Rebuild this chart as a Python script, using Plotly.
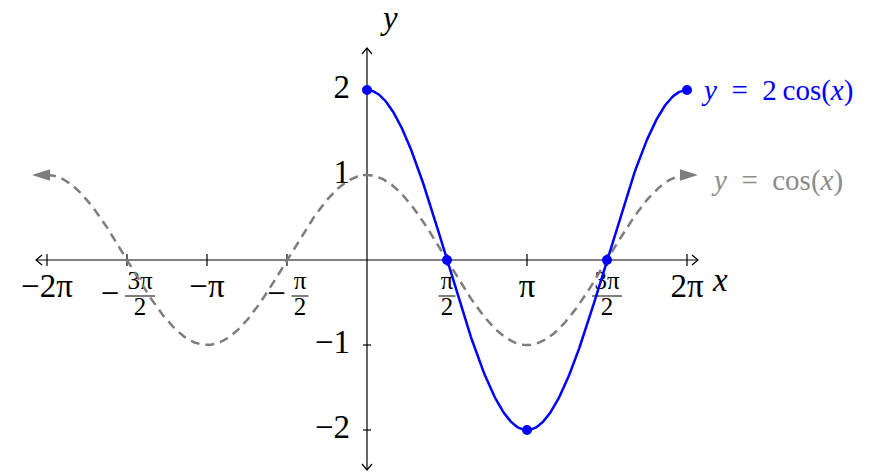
import numpy as np
import plotly.graph_objects as go

PI = np.pi

# curves
x_cos = np.linspace(-2 * PI, 2 * PI, 500)
y_cos = np.cos(x_cos)
x_2cos = np.linspace(0, 2 * PI, 300)
y_2cos = 2 * np.cos(x_2cos)

# highlighted points on y = 2cos(x)
dot_x = [0, PI / 2, PI, 3 * PI / 2, 2 * PI]
dot_y = [2 * np.cos(v) for v in dot_x]

# tick labels
whole_ticks = [-2 * PI, -PI, PI, 2 * PI]
whole_labels = ['−2π', '−π', 'π', '2π']
frac_ticks = [-3 * PI / 2, -PI / 2, PI / 2, 3 * PI / 2]
frac_signs = ['−', '−', '', '']
frac_nums = ['3π', 'π', 'π', '3π']
frac_dens = ['2', '2', '2', '2']
y_ticks = [-2, -1, 1, 2]
y_labels = ['−2', '−1', '1', '2']

# pixel scale of the drawing
W, H = 884, 475
SX = 160 / PI      # px per x unit
SY = 85.0          # px per y unit
OX, OY = 367, 260  # pixel position of the origin


def dx(px):
    return px / SX


def dy(px):
    return px / SY


FONT = 'Liberation Serif'
GRAY = 'rgb(125,125,125)'
BLUE = 'rgb(0,0,255)'
BIG = 33

fig = go.Figure()
shapes = []

# x tick labels (drawn first so curves sit on top)
fig.add_trace(go.Scatter(
    x=whole_ticks, y=[-dy(29)] * len(whole_ticks), text=whole_labels,
    mode='text', textfont=dict(family=FONT, size=BIG, color='black'),
    hoverinfo='skip', showlegend=False))

for t, s, n, d in zip(frac_ticks, frac_signs, frac_nums, frac_dens):
    fw = 28 if len(n) > 1 else 15
    if s:
        start = -(20 + 6 + fw) / 2
        fig.add_trace(go.Scatter(
            x=[t + dx(start + 10)], y=[-dy(36)], text=[s], mode='text',
            textfont=dict(family=FONT, size=BIG, color='black'),
            hoverinfo='skip', showlegend=False))
        fc = t + dx(start + 26 + fw / 2)
    else:
        fc = t
    fig.add_trace(go.Scatter(
        x=[fc, fc], y=[-dy(23), -dy(49)], text=[n, d], mode='text',
        textfont=dict(family=FONT, size=25, color='black'),
        hoverinfo='skip', showlegend=False))
    shapes.append(dict(type='line', xref='x', yref='y', layer='below',
                       x0=fc - dx(fw / 2 + 1), x1=fc + dx(fw / 2 + 1),
                       y0=-dy(36), y1=-dy(36),
                       line=dict(color='black', width=1)))

# y tick labels
fig.add_trace(go.Scatter(
    x=[-dx(17)] * len(y_ticks), y=y_ticks, text=y_labels,
    mode='text', textposition='middle left',
    textfont=dict(family=FONT, size=BIG, color='black'),
    hoverinfo='skip', showlegend=False))

# y = cos(x), dashed gray with arrow tips
fig.add_trace(go.Scatter(
    x=x_cos, y=y_cos, mode='lines',
    line=dict(color=GRAY, width=2.5, dash='9px,6px'),
    hoverinfo='skip', showlegend=False))
fig.add_trace(go.Scatter(
    x=[x_cos[0] - dx(15), x_cos[-1] + dx(11)], y=[y_cos[0], y_cos[-1]],
    mode='markers',
    marker=dict(symbol='arrow', size=19, angle=[270, 90], color=GRAY),
    hoverinfo='skip', showlegend=False))

# y = 2cos(x)
fig.add_trace(go.Scatter(
    x=x_2cos, y=y_2cos, mode='lines',
    line=dict(color=BLUE, width=2.5),
    hoverinfo='skip', showlegend=False))
fig.add_trace(go.Scatter(
    x=dot_x, y=dot_y, mode='markers',
    marker=dict(color=BLUE, size=10),
    hoverinfo='skip', showlegend=False))

# axes lines
xl, xr = dx(36 - OX), dx(698 - OX)
yb, yt = -dy(470 - OY), dy(OY - 48)
ax_line = dict(color='black', width=1.2)
shapes += [
    dict(type='line', x0=xl, x1=xr, y0=0, y1=0, line=ax_line, layer='below'),
    dict(type='line', x0=0, x1=0, y0=yb, y1=yt, line=ax_line, layer='below'),
    # open arrow heads
    dict(type='path', layer='below', line=ax_line,
         path=f'M{xl + dx(6)},{dy(5)} L{xl},0 L{xl + dx(6)},{-dy(5)}'),
    dict(type='path', layer='below', line=ax_line,
         path=f'M{xr - dx(6)},{dy(5)} L{xr},0 L{xr - dx(6)},{-dy(5)}'),
    dict(type='path', layer='below', line=ax_line,
         path=f'M{-dx(5)},{yt - dy(6)} L0,{yt} L{dx(5)},{yt - dy(6)}'),
    dict(type='path', layer='below', line=ax_line,
         path=f'M{-dx(5)},{yb + dy(6)} L0,{yb} L{dx(5)},{yb + dy(6)}'),
]
for t in whole_ticks + frac_ticks:
    shapes.append(dict(type='line', x0=t, x1=t, y0=-dy(6), y1=dy(6),
                       line=ax_line, layer='below'))
for t in y_ticks:
    shapes.append(dict(type='line', x0=-dx(4), x1=dx(4), y0=t, y1=t,
                       line=ax_line, layer='below'))

SP = '\u2002'
annotations = [
    dict(x=dx(720 - OX), y=-dy(280 - OY), text='<i>x</i>', showarrow=False,
         font=dict(family=FONT, size=BIG, color='black')),
    dict(x=dx(389 - OX), y=dy(OY - 18), text='<i>y</i>', showarrow=False,
         font=dict(family=FONT, size=BIG, color='black')),
    dict(x=dx(699 - OX), y=2,
         text=f'<i>y</i>{SP}={SP}2\u2009cos(<i>x</i>)',
         showarrow=False, xanchor='left',
         font=dict(family=FONT, size=29, color=BLUE)),
    dict(x=dx(709 - OX), y=-dy(180 - OY),
         text=f'<i>y</i>{SP}={SP}cos(<i>x</i>)',
         showarrow=False, xanchor='left',
         font=dict(family=FONT, size=29, color='rgb(140,140,140)')),
]

fig.update_layout(
    width=W, height=H,
    margin=dict(l=0, r=0, t=0, b=0, pad=0),
    paper_bgcolor='white', plot_bgcolor='white',
    xaxis=dict(range=[dx(-OX), dx(W - OX)], visible=False, fixedrange=True),
    yaxis=dict(range=[-dy(H - OY), dy(OY)], visible=False, fixedrange=True),
    shapes=shapes,
    annotations=annotations,
)

fig.write_html("out.html", config={'displayModeBar': False},
               post_script="document.body.style.margin='0px';")
